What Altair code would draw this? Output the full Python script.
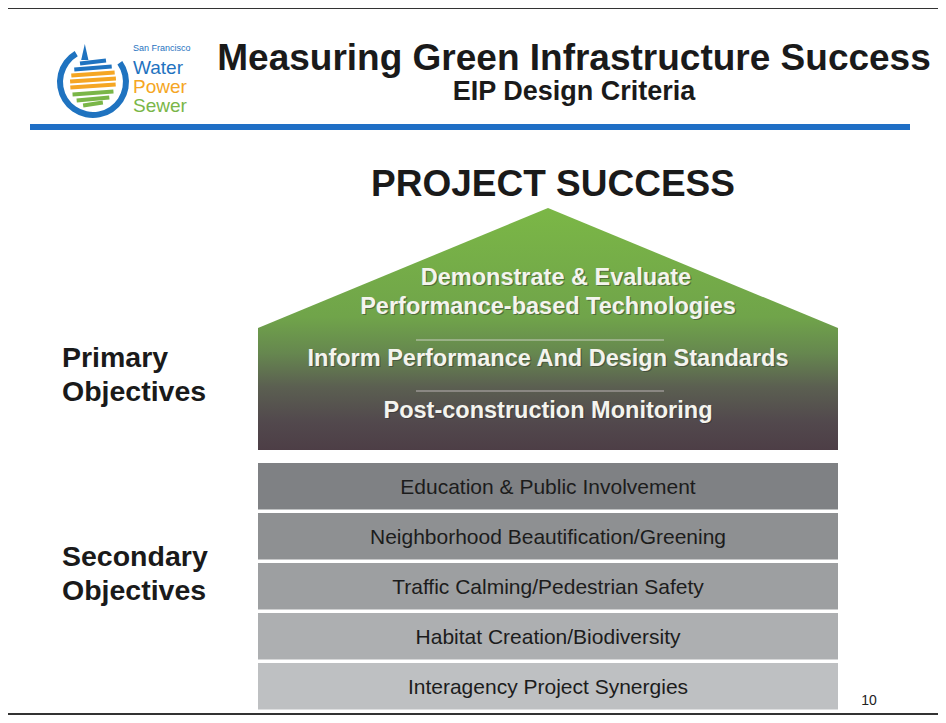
import math
import altair as alt
import pandas as pd

# ---------------- content ----------------
title = "Measuring Green Infrastructure Success"
subtitle = "EIP Design Criteria"
headline = "PROJECT SUCCESS"
primary_lines = ["Demonstrate & Evaluate", "Performance-based Technologies",
                 "Inform Performance And Design Standards", "Post-construction Monitoring"]
secondary = ["Education & Public Involvement", "Neighborhood Beautification/Greening",
             "Traffic Calming/Pedestrian Safety", "Habitat Creation/Biodiversity",
             "Interagency Project Synergies"]
side_labels = ["Primary", "Objectives", "Secondary", "Objectives"]
logo_words = ["San Francisco", "Water", "Power", "Sewer"]
page_number = "10"

# ---------------- layout / style ----------------
FONT = "Liberation Sans"
band_colors = ["#7f8184", "#8e9092", "#9d9fa1", "#adafb1", "#bec0c2"]
logo_colors = ["#1f73c0", "#1f73c0", "#f5a623", "#7ab648"]
HX0, HX1, HXC = 258, 838, 548
ROOF_TOP, EAVE, HOUSE_BOTTOM = 208, 328, 450
BAND_TOP, BAND_STEP, BAND_H = 463, 50, 46.5

xs = alt.Scale(domain=[8, 938], nice=False, zero=False)
ys = alt.Scale(domain=[715, 8], nice=False, zero=False)


def X(f="x"):
    return alt.X(f"{f}:Q", scale=xs, axis=None)


def Y(f="y"):
    return alt.Y(f"{f}:Q", scale=ys, axis=None)


# ---- rules (frame, blue bar, separators, logo stripes) ----
rules = [
    dict(x=5, x2=946, y=8, y2=8, w=2, c="#333333"),
    dict(x=5, x2=5, y=8, y2=714, w=2, c="#333333"),
    dict(x=5, x2=946, y=714, y2=714, w=2, c="#333333"),
    dict(x=30, x2=910, y=127, y2=127, w=6, c="#1f6fc6"),
    dict(x=416, x2=664, y=340, y2=340, w=1, c="#c9cfc0"),
    dict(x=416, x2=664, y=391, y2=391, w=1, c="#b9b2b4"),
]
# logo stripes inside the ring
LCX, LCY, LR = 93, 82, 25
stripe_spec = [(62, "#1f73c0"), (68, "#1f73c0"), (74, "#f5a623"), (80, "#f5a623"),
               (86, "#f5a623"), (93, "#7ab648"), (99, "#7ab648"), (104, "#7ab648")]
for sy, sc in stripe_spec:
    hw = math.sqrt(max(LR ** 2 - (sy - LCY) ** 2, 0))
    rules.append(dict(x=LCX - hw + 2, x2=LCX + hw - 2, y=sy + 1.5, y2=sy - 1.5, w=4, c=sc))
rules_df = pd.DataFrame(rules)
rule_layer = alt.Chart(rules_df).mark_rule().encode(
    x=X(), x2="x2:Q", y=Y(), y2="y2:Q",
    strokeWidth=alt.StrokeWidth("w:Q", scale=None),
    color=alt.Color("c:N", scale=None),
)

# ---- house (primary objectives) ----
house_df = pd.DataFrame({"x": [HX0, HXC, HX1], "y": [EAVE, ROOF_TOP, EAVE],
                         "y2": [HOUSE_BOTTOM] * 3})
gradient = alt.Gradient(
    gradient="linear", x1=0, x2=0, y1=0, y2=1,
    stops=[
        alt.GradientStop(color="#7bb746", offset=0),
        alt.GradientStop(color="#70a44a", offset=0.45),
        alt.GradientStop(color="#66874f", offset=0.6),
        alt.GradientStop(color="#5b5f51", offset=0.74),
        alt.GradientStop(color="#52494d", offset=0.88),
        alt.GradientStop(color="#4d3e46", offset=1),
    ],
)
house_layer = alt.Chart(house_df).mark_area(
    color=gradient, orient="vertical", interpolate="linear", line=False
).encode(x=X(), y=Y(), y2="y2:Q")

# ---- secondary bands ----
band_df = pd.DataFrame({
    "label": secondary,
    "x": HX0, "x2": HX1,
    "y": [BAND_TOP + i * BAND_STEP for i in range(len(secondary))],
    "y2": [BAND_TOP + i * BAND_STEP + BAND_H for i in range(len(secondary))],
    "fill": band_colors,
})
band_layer = alt.Chart(band_df).mark_rect().encode(
    x=X(), x2="x2:Q", y=Y(), y2="y2:Q", color=alt.Color("fill:N", scale=None)
)
band_df["ty"] = band_df["y"] + BAND_H / 2 + 7.5
band_text = alt.Chart(band_df).mark_text(
    font=FONT, fontSize=21, color="#1c1c1c", align="center", baseline="alphabetic"
).encode(x=alt.X("tx:Q", scale=xs, axis=None), y=alt.Y("ty:Q", scale=ys, axis=None),
         text="label:N").transform_calculate(tx=str(HXC))

# ---- logo ring ----
ring_df = pd.DataFrame({"x": [LCX], "y": [LCY]})
ring = alt.Chart(ring_df).mark_arc(
    radius=36, radius2=30, theta=0.95, theta2=5.75, color="#1f73c0"
).encode(x=X(), y=Y())
drop = alt.Chart(pd.DataFrame({"x": [84], "y": [52]})).mark_point(
    shape="M-0.35,1 L0.1,-1 L0.55,1 Z", size=260, filled=True, color="#1f73c0", opacity=1
).encode(x=X(), y=Y())

# ---- texts ----
bold_center = pd.DataFrame({
    "text": [title, subtitle, headline],
    "x": [574, 574, 553],
    "y": [70, 100, 196],
    "size": [37, 27, 37],
    "color": ["#1a1a1a", "#1a1a1a", "#1a1a1a"],
})
bold_center_layer = alt.Chart(bold_center).mark_text(
    font=FONT, fontWeight="bold", align="center", baseline="alphabetic"
).encode(x=X(), y=Y(), text="text:N", size=alt.Size("size:Q", scale=None),
         color=alt.Color("color:N", scale=None))

house_text = pd.DataFrame({
    "text": primary_lines,
    "x": [HXC + 8, HXC, HXC, HXC],
    "y": [285, 314, 366, 418],
})
house_shadow = alt.Chart(house_text).mark_text(
    font=FONT, fontWeight="bold", fontSize=23.5, align="center", baseline="alphabetic",
    color="#2b2b2b", opacity=0.45, dx=1.2, dy=1.2
).encode(x=X(), y=Y(), text="text:N")
house_label = alt.Chart(house_text).mark_text(
    font=FONT, fontWeight="bold", fontSize=23.5, align="center", baseline="alphabetic",
    color="#f4f4ee"
).encode(x=X(), y=Y(), text="text:N")

side_df = pd.DataFrame({"text": side_labels, "x": 62, "y": [367, 401, 566, 600]})
side_layer = alt.Chart(side_df).mark_text(
    font=FONT, fontWeight="bold", fontSize=28.5, align="left", baseline="alphabetic",
    color="#1a1a1a"
).encode(x=X(), y=Y(), text="text:N")

logo_df = pd.DataFrame({"text": logo_words, "x": 133, "y": [51, 74, 93, 112],
                        "size": [9, 19, 19, 19], "color": logo_colors})
logo_text = alt.Chart(logo_df).mark_text(
    font=FONT, fontWeight=500, align="left", baseline="alphabetic"
).encode(x=X(), y=Y(), text="text:N", size=alt.Size("size:Q", scale=None),
         color=alt.Color("color:N", scale=None))

page_df = pd.DataFrame({"text": [page_number], "x": [869], "y": [705]})
page_layer = alt.Chart(page_df).mark_text(
    font=FONT, fontSize=14, align="center", baseline="alphabetic", color="#222222"
).encode(x=X(), y=Y(), text="text:N")

chart = alt.layer(
    house_layer, band_layer, rule_layer, ring, drop,
    band_text, bold_center_layer, house_shadow, house_label,
    side_layer, logo_text, page_layer,
).properties(
    width=930, height=707, padding=0, autosize=alt.AutoSizeParams(type="none"),
    background="white",
).configure_view(stroke=None)

chart.save("out.html", embed_options={"renderer": "svg", "actions": False})
